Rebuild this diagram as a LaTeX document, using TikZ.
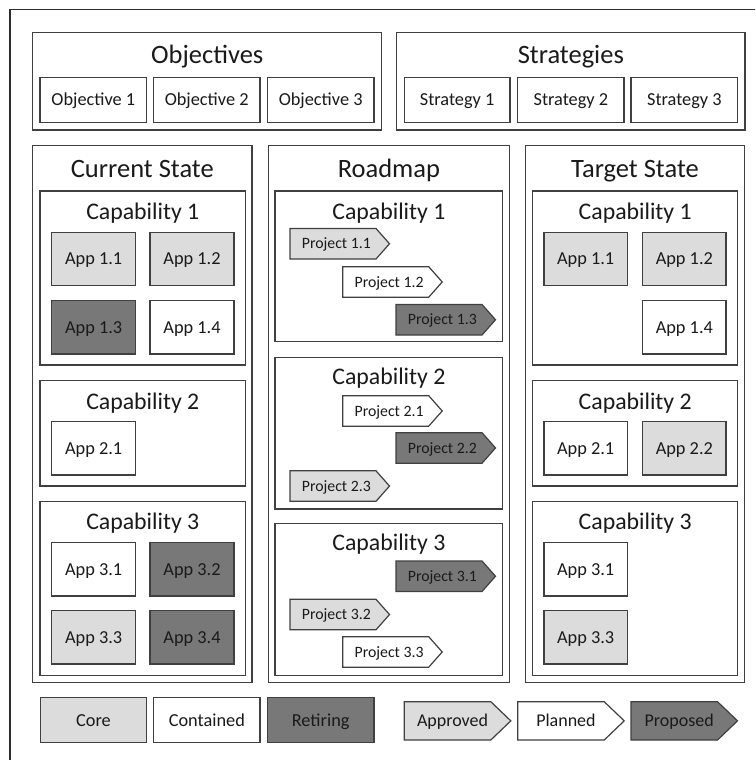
\documentclass[tikz,border=0pt]{standalone}
\usepackage{fontspec}
\setmainfont{Carlito}

\definecolor{linec}{HTML}{404040}
\definecolor{framec}{HTML}{2E2E2E}
\definecolor{lightf}{HTML}{DCDCDC}
\definecolor{darkf}{HTML}{787878}
\definecolor{txt}{HTML}{1A1A1A}

% rectangular box given by its top-left and bottom-right corners
% #1 name, #2 x1, #3 y1, #4 x2, #5 y2, #6 style, #7 text
\newcommand\bx[7]{%
  \node[#6, anchor=north west,
        minimum width={(#4-#2)*1pt}, minimum height={(#5-#3)*1pt}]
        (#1) at (#2,#3) {#7};}

% arrow-shaped project tag
% #1 name, #2 x, #3 y, #4 total width, #5 height, #6 tip depth, #7 style, #8 text
\newcommand\chev[8]{%
  \draw[#7] (#2,#3) -- (#2+#4-#6,#3) -- (#2+#4,#3+#5/2)
            -- (#2+#4-#6,#3+#5) -- (#2,#3+#5) -- cycle;
  \node[chevtext] (#1) at (#2+#4/2-#6/4,#3+#5/2) {#8};}

\begin{document}
\begin{tikzpicture}[x=1pt,y=-1pt,
  frame/.style={draw=linec, line width=1.2pt, fill=white, inner sep=0pt, outer sep=0pt},
  cell/.style={frame, text=txt, font=\fontsize{18.3}{20}\selectfont,
               text height=11.8pt, text depth=0pt},
  core/.style={cell, fill=lightf},
  contained/.style={cell, fill=white},
  retiring/.style={cell, fill=darkf},
  ttl/.style={text=txt, inner sep=0pt, font=\fontsize{26.5}{28}\selectfont,
              text height=17pt, text depth=0pt},
  capttl/.style={text=txt, inner sep=0pt, font=\fontsize{23.8}{25}\selectfont,
                 text height=15.3pt, text depth=0pt},
  chevtext/.style={text=txt, inner sep=0pt, font=\fontsize{15.8}{17}\selectfont,
                   text height=10.2pt, text depth=0pt},
  approved/.style={draw=linec, line width=1.2pt, fill=lightf, line join=miter},
  planned/.style={approved, fill=white},
  proposed/.style={approved, fill=darkf},
]
\useasboundingbox (0,0) rectangle (755,760);
\clip (0,0) rectangle (755,760);

% outer frame
\draw[draw=framec, line width=1.3pt] (10,9.3) rectangle (800,800);

% objectives
\bx{objC}{32.7}{32.3}{381.7}{130}{frame}{}
\node[ttl] (objT) at (207.2,54.7) {Objectives};
\bx{o1}{40}{77.3}{146.7}{122.7}{contained}{Objective 1}
\bx{o2}{153.3}{77.3}{260}{122.7}{contained}{Objective 2}
\bx{o3}{267.3}{77.3}{374}{122.7}{contained}{Objective 3}

% strategies
\bx{strC}{396.7}{32.3}{745}{130}{frame}{}
\node[ttl] (strT) at (570.8,54.7) {Strategies};
\bx{s1}{404.3}{77.3}{510}{122.7}{contained}{Strategy 1}
\bx{s2}{517.7}{77.3}{624}{122.7}{contained}{Strategy 2}
\bx{s3}{631}{77.3}{737.7}{122.7}{contained}{Strategy 3}

% columns
\bx{curC}{32.7}{145.5}{252}{682.5}{frame}{}
\node[ttl] (curT) at (142.3,168.8) {Current State};
\bx{rdC}{268.3}{145.5}{509.5}{682.5}{frame}{}
\node[ttl] (rdT) at (388.9,168.8) {Roadmap};
\bx{tgtC}{525.5}{145.5}{744.5}{682.5}{frame}{}
\node[ttl] (tgtT) at (635,168.8) {Target State};

% current state capabilities
\bx{cc1}{40}{191}{245.7}{365}{frame}{}
\node[capttl] (cc1T) at (142.8,212) {Capability 1};
\bx{ca11}{51.7}{232.3}{135.7}{285.7}{core}{App 1.1}
\bx{ca12}{150}{232.3}{234}{285.7}{core}{App 1.2}
\bx{ca13}{51.7}{300.7}{135.7}{354}{retiring}{App 1.3}
\bx{ca14}{150}{300.7}{234}{354}{contained}{App 1.4}

\bx{cc2}{40}{380.7}{245.7}{486}{frame}{}
\node[capttl] (cc2T) at (142.8,401.7) {Capability 2};
\bx{ca21}{51.7}{421.7}{135.7}{475}{contained}{App 2.1}

\bx{cc3}{40}{501.3}{245.7}{675.7}{frame}{}
\node[capttl] (cc3T) at (142.8,522.3) {Capability 3};
\bx{ca31}{51.7}{542.7}{135.7}{596}{contained}{App 3.1}
\bx{ca32}{150}{542.7}{234}{596}{retiring}{App 3.2}
\bx{ca33}{51.7}{610.7}{135.7}{664}{core}{App 3.3}
\bx{ca34}{150}{610.7}{234}{664}{retiring}{App 3.4}

% roadmap capabilities
\bx{rc1}{275}{191}{502.7}{341.7}{frame}{}
\node[capttl] (rc1T) at (388.9,211.5) {Capability 1};
\chev{p11}{290}{228.5}{99.5}{30.5}{13.5}{approved}{Project 1.1}
\chev{p12}{342.7}{266.7}{99.5}{30.5}{13.5}{planned}{Project 1.2}
\chev{p13}{396}{304.5}{99.5}{30.5}{13.5}{proposed}{Project 1.3}

\bx{rc2}{275}{357.3}{502.7}{509}{frame}{}
\node[capttl] (rc2T) at (388.9,377) {Capability 2};
\chev{p21}{342.7}{395.7}{99.5}{30.5}{13.5}{planned}{Project 2.1}
\chev{p22}{396}{432.7}{99.5}{30.5}{13.5}{proposed}{Project 2.2}
\chev{p23}{290}{470.8}{99.5}{30.5}{13.5}{approved}{Project 2.3}

\bx{rc3}{275}{523.3}{502.7}{675.7}{frame}{}
\node[capttl] (rc3T) at (388.9,543.3) {Capability 3};
\chev{p31}{396}{561}{99.5}{30.5}{13.5}{proposed}{Project 3.1}
\chev{p32}{290}{599.3}{99.5}{30.5}{13.5}{approved}{Project 3.2}
\chev{p33}{342.7}{636.7}{99.5}{30.5}{13.5}{planned}{Project 3.3}

% target state capabilities
\bx{tc1}{532.7}{191}{737.7}{365}{frame}{}
\node[capttl] (tc1T) at (635.2,212) {Capability 1};
\bx{ta11}{544}{232.3}{627.3}{285.7}{core}{App 1.1}
\bx{ta12}{642.7}{232.3}{726}{285.7}{core}{App 1.2}
\bx{ta14}{642.7}{300.7}{726}{354}{contained}{App 1.4}

\bx{tc2}{532.7}{380.7}{737.7}{486}{frame}{}
\node[capttl] (tc2T) at (635.2,401.7) {Capability 2};
\bx{ta21}{544}{421.7}{627.3}{475}{contained}{App 2.1}
\bx{ta22}{642.7}{421.7}{726}{475}{core}{App 2.2}

\bx{tc3}{532.7}{501.3}{737.7}{675.7}{frame}{}
\node[capttl] (tc3T) at (635.2,522.3) {Capability 3};
\bx{ta31}{544}{542.7}{627.3}{596}{contained}{App 3.1}
\bx{ta33}{544}{610.7}{627.3}{664}{core}{App 3.3}

% legend
\bx{lcore}{40.3}{697.7}{146.7}{742.7}{core}{Core}
\bx{lcont}{153.7}{697.7}{260}{742.7}{contained}{Contained}
\bx{lret}{267.3}{697.7}{374}{742.7}{retiring}{Retiring}
\begin{scope}[chevtext/.append style={font=\fontsize{18}{20}\selectfont, text height=11.6pt}]
\chev{lapp}{404.3}{701.7}{106.5}{38.3}{20}{approved}{Approved}
\chev{lplan}{517.7}{701.7}{106.5}{38.3}{20}{planned}{Planned}
\chev{lprop}{631}{701.7}{106.5}{38.3}{20}{proposed}{Proposed}
\end{scope}
\end{tikzpicture}
\end{document}
